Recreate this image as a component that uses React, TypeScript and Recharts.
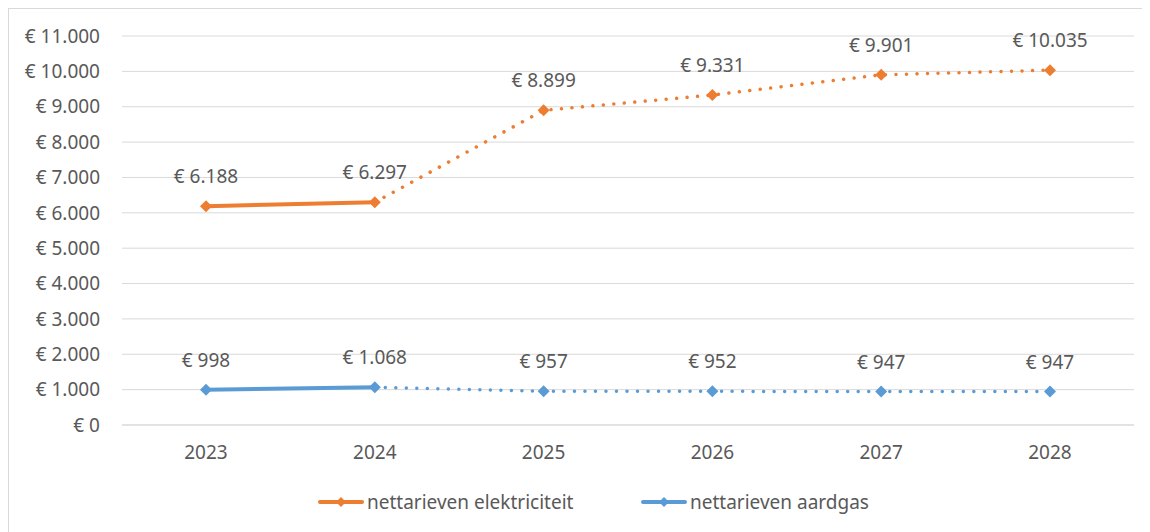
import React from 'react';
import { LineChart, Line, XAxis, YAxis, CartesianGrid, LabelList } from 'recharts';

const years = ['2023', '2024', '2025', '2026', '2027', '2028'];
const elecValues = [6188, 6297, 8899, 9331, 9901, 10035];
const gasValues = [998, 1068, 957, 952, 947, 947];
const actualCount = 2; // 2023-2024 are realised (solid), the rest forecast (dotted)
const yTicks = [0, 1000, 2000, 3000, 4000, 5000, 6000, 7000, 8000, 9000, 10000, 11000];
const seriesNames = ['nettarieven elektriciteit', 'nettarieven aardgas'];

const ORANGE = '#ED7D31';
const BLUE = '#5B9BD5';
const TEXT = '#595959';
const FONT = '"Noto Sans", sans-serif';
const FS = 19;

const data = years.map((year, i) => ({
  year,
  elec: elecValues[i],
  gas: gasValues[i],
  elecSolid: i < actualCount ? elecValues[i] : null,
  elecDot: i >= actualCount - 1 ? elecValues[i] : null,
  gasSolid: i < actualCount ? gasValues[i] : null,
  gasDot: i >= actualCount - 1 ? gasValues[i] : null,
}));

const fmt = (v: number) => '€ ' + String(v).replace(/\B(?=(\d{3})+(?!\d))/g, '.');

const diamond = (color: string) => (props: any) => {
  const { cx, cy, index } = props;
  if (cx == null || cy == null) return <g key={index} />;
  const r = 6;
  return (
    <polygon
      key={index}
      points={`${cx},${cy - r} ${cx + r},${cy} ${cx},${cy + r} ${cx - r},${cy}`}
      fill={color}
      stroke="none"
    />
  );
};

const LegendIcon = ({ color }: { color: string }) => (
  <svg width={46} height={14} style={{ display: 'block' }}>
    <line x1={2} y1={7} x2={44} y2={7} stroke={color} strokeWidth={4} strokeLinecap="round" />
    <polygon points="23,2 28,7 23,12 18,7" fill={color} />
  </svg>
);

export default function App() {
  return (
    <div
      style={{
        position: 'relative',
        width: 1138,
        height: 530,
        border: '1px solid #D9D9D9',
        boxSizing: 'border-box',
        background: '#fff',
      }}
    >
      <LineChart
        width={1136}
        height={522}
        data={data}
        margin={{ top: 27, right: 11, left: 0, bottom: 66 }}
      >
        <CartesianGrid vertical={false} stroke="#D9D9D9" strokeWidth={1} />
        <XAxis
          dataKey="year"
          axisLine={{ stroke: '#D9D9D9' }}
          tickLine={false}
          tickSize={0}
          tickMargin={21}
          height={40}
          padding={{ left: 84, right: 84 }}
          tick={{ fill: TEXT, fontSize: FS, fontFamily: FONT }}
        />
        <YAxis
          domain={[0, 11000]}
          ticks={yTicks}
          width={113}
          axisLine={false}
          tickLine={false}
          tickSize={0}
          tickMargin={22}
          tickFormatter={fmt}
          tick={{ fill: TEXT, fontSize: FS, fontFamily: FONT }}
        />
        <Line dataKey="elecSolid" stroke={ORANGE} strokeWidth={4} dot={false} activeDot={false} isAnimationActive={false} />
        <Line dataKey="elecDot" stroke={ORANGE} strokeWidth={3.5} strokeDasharray="0.01 10.5" strokeLinecap="round" dot={false} activeDot={false} isAnimationActive={false} />
        <Line dataKey="gasSolid" stroke={BLUE} strokeWidth={4} dot={false} activeDot={false} isAnimationActive={false} />
        <Line dataKey="gasDot" stroke={BLUE} strokeWidth={3.5} strokeDasharray="0.01 10.5" strokeLinecap="round" dot={false} activeDot={false} isAnimationActive={false} />
        <Line dataKey="elec" stroke="none" dot={diamond(ORANGE)} activeDot={false} isAnimationActive={false}>
          <LabelList dataKey="elec" position="top" offset={23} formatter={(v: any) => fmt(Number(v))} fill={TEXT} fontSize={FS} fontFamily={FONT} />
        </Line>
        <Line dataKey="gas" stroke="none" dot={diamond(BLUE)} activeDot={false} isAnimationActive={false}>
          <LabelList dataKey="gas" position="top" offset={23} formatter={(v: any) => fmt(Number(v))} fill={TEXT} fontSize={FS} fontFamily={FONT} />
        </Line>
      </LineChart>
      {[ORANGE, BLUE].map((c, i) => (
        <div
          key={i}
          style={{
            position: 'absolute',
            left: i === 0 ? 309 : 632,
            top: 480,
            display: 'flex',
            alignItems: 'center',
            fontFamily: FONT,
            fontSize: FS,
            color: TEXT,
            whiteSpace: 'nowrap',
          }}
        >
          <LegendIcon color={c} />
          <span style={{ marginLeft: 3 }}>{seriesNames[i]}</span>
        </div>
      ))}
    </div>
  );
}
